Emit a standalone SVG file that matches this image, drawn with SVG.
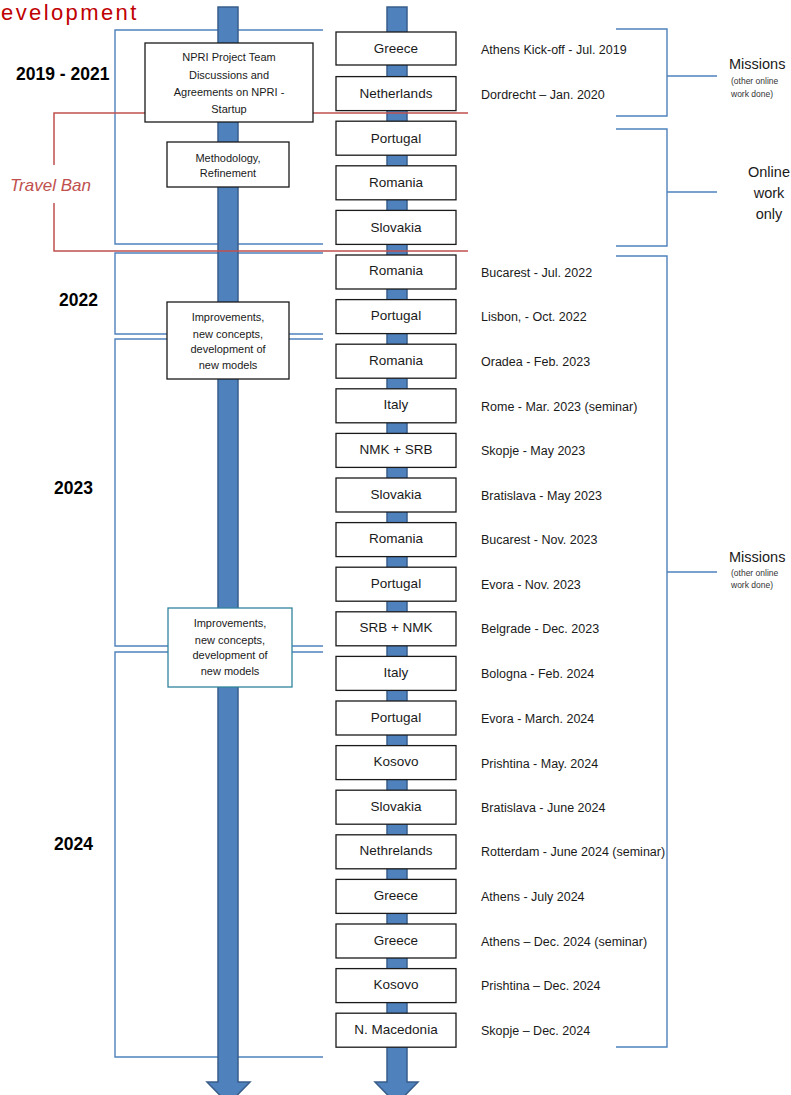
<svg xmlns="http://www.w3.org/2000/svg" width="791" height="1095" viewBox="0 0 791 1095">
<style>
  .bl { fill: none; stroke: #4F81BD; stroke-width: 1.4; }
  .rd { fill: none; stroke: #C0504D; stroke-width: 1.5; }
  .shaft { fill: #4F81BD; stroke: #385D8A; stroke-width: 1.5; }
  .box { fill: #ffffff; stroke: #1a1a1a; stroke-width: 1.3; }
  .tbox { fill: #ffffff; stroke: #31849B; stroke-width: 1.3; }
  .ct { font-family: "Liberation Sans", Arial, sans-serif; font-size: 13.5px; fill: #1a1a1a; text-anchor: middle; }
  .dt { font-family: "Liberation Sans", Arial, sans-serif; font-size: 12.5px; fill: #1a1a1a; }
  .st { font-family: "Liberation Sans", Arial, sans-serif; font-size: 11px; fill: #1a1a1a; text-anchor: middle; }
  .yr { font-family: "Liberation Sans", Arial, sans-serif; font-size: 17.5px; font-weight: bold; fill: #000; }
  .ms { font-family: "Liberation Sans", Arial, sans-serif; font-size: 14.5px; fill: #1a1a1a; }
  .sm { font-family: "Liberation Sans", Arial, sans-serif; font-size: 8.5px; fill: #333; }
</style>
<rect x="0" y="0" width="791" height="1095" fill="#ffffff"/>

<g id="title">
  <text x="1" y="20" font-family="Liberation Sans, Arial, sans-serif" font-size="22" letter-spacing="2.4" fill="#C00000">evelopment</text>
</g>

<g id="connectors">
  <!-- left period brackets -->
  <path class="bl" d="M323,30 H115 V244 H323"/>
  <path class="bl" d="M323,253 H115 V334 H323"/>
  <path class="bl" d="M323,339 H115 V646 H323"/>
  <path class="bl" d="M323,652 H115 V1057 H323"/>
  <!-- right brackets -->
  <path class="bl" d="M616,29 H667 V116 H616 M667,76 H717"/>
  <path class="bl" d="M616,129 H667 V246 H616 M667,192 H717"/>
  <path class="bl" d="M616,256 H667 V1047 H616 M667,572 H717"/>
</g>

<g id="timeline-arrows">
  <path class="shaft" d="M218,7 H238 V1082 H250 L228.5,1104 L207,1082 H218 Z"/>
  <path class="shaft" d="M387,7 H407 V1082 H418 L396.5,1104 L375,1082 H387 Z"/>
</g>

<g id="travel-ban-bracket">
  <path class="rd" d="M468,113 H54 V165"/>
  <path class="rd" d="M54,203 V251 H468"/>
</g>

<g id="label-travel-ban">
  <text x="10" y="191" font-family="Liberation Sans, Arial, sans-serif" font-size="17" font-style="italic" fill="#C0504D">Travel Ban</text>
</g>

<g id="years">
  <text class="yr" x="16" y="80">2019 - 2021</text>
  <text class="yr" x="59" y="306">2022</text>
  <text class="yr" x="54" y="494">2023</text>
  <text class="yr" x="54" y="850">2024</text>
</g>

<g id="node-npri">
  <rect class="box" x="145" y="43" width="168" height="79"/>
  <text class="st" x="229" y="61">NPRI Project Team</text>
  <text class="st" x="229" y="78.5">Discussions and</text>
  <text class="st" x="229" y="96">Agreements on NPRI -</text>
  <text class="st" x="229" y="113">Startup</text>
</g>
<g id="node-methodology">
  <rect class="box" x="167" y="142" width="122" height="45"/>
  <text class="st" x="228" y="162">Methodology,</text>
  <text class="st" x="228" y="177">Refinement</text>
</g>
<g id="node-improvements-1">
  <rect class="box" x="167" y="302" width="122" height="77"/>
  <text class="st" x="228" y="321">Improvements,</text>
  <text class="st" x="228" y="338">new concepts,</text>
  <text class="st" x="228" y="353">development of</text>
  <text class="st" x="228" y="369">new models</text>
</g>
<g id="node-improvements-2">
  <rect class="tbox" x="168" y="608" width="124" height="79"/>
  <text class="st" x="230" y="627">Improvements,</text>
  <text class="st" x="230" y="644">new concepts,</text>
  <text class="st" x="230" y="659">development of</text>
  <text class="st" x="230" y="675">new models</text>
</g>

<g id="node-c00"><rect class="box" x="336" y="32" width="120" height="33"/><text class="ct" x="396" y="53">Greece</text><text class="dt" x="481" y="53.5">Athens Kick-off - Jul. 2019</text></g>
<g id="node-c01"><rect class="box" x="336" y="76.6" width="120" height="34"/><text class="ct" x="396" y="98">Netherlands</text><text class="dt" x="481" y="98.5">Dordrecht – Jan. 2020</text></g>
<g id="node-c02"><rect class="box" x="336" y="121.2" width="120" height="34"/><text class="ct" x="396" y="142.5">Portugal</text></g>
<g id="node-c03"><rect class="box" x="336" y="165.8" width="120" height="34"/><text class="ct" x="396" y="187">Romania</text></g>
<g id="node-c04"><rect class="box" x="336" y="210.4" width="120" height="34"/><text class="ct" x="396" y="231.5">Slovakia</text></g>
<g id="node-c05"><rect class="box" x="336" y="255" width="120" height="34"/><text class="ct" x="396" y="275">Romania</text><text class="dt" x="481" y="276.5">Bucarest - Jul. 2022</text></g>
<g id="node-c06"><rect class="box" x="336" y="299.6" width="120" height="34"/><text class="ct" x="396" y="320">Portugal</text><text class="dt" x="481" y="321">Lisbon, - Oct. 2022</text></g>
<g id="node-c07"><rect class="box" x="336" y="344.2" width="120" height="34"/><text class="ct" x="396" y="364.5">Romania</text><text class="dt" x="481" y="366">Oradea - Feb. 2023</text></g>
<g id="node-c08"><rect class="box" x="336" y="388.8" width="120" height="34"/><text class="ct" x="396" y="409">Italy</text><text class="dt" x="481" y="410.5">Rome - Mar. 2023 (seminar)</text></g>
<g id="node-c09"><rect class="box" x="336" y="433.4" width="120" height="34"/><text class="ct" x="396" y="454">NMK + SRB</text><text class="dt" x="481" y="455">Skopje - May 2023</text></g>
<g id="node-c10"><rect class="box" x="336" y="478" width="120" height="34"/><text class="ct" x="396" y="498.5">Slovakia</text><text class="dt" x="481" y="499.5">Bratislava - May 2023</text></g>
<g id="node-c11"><rect class="box" x="336" y="522.6" width="120" height="34"/><text class="ct" x="396" y="543">Romania</text><text class="dt" x="481" y="544">Bucarest - Nov. 2023</text></g>
<g id="node-c12"><rect class="box" x="336" y="567.2" width="120" height="34"/><text class="ct" x="396" y="587.5">Portugal</text><text class="dt" x="481" y="588.5">Evora - Nov. 2023</text></g>
<g id="node-c13"><rect class="box" x="336" y="611.8" width="120" height="34"/><text class="ct" x="396" y="632">SRB + NMK</text><text class="dt" x="481" y="633">Belgrade - Dec. 2023</text></g>
<g id="node-c14"><rect class="box" x="336" y="656.4" width="120" height="34"/><text class="ct" x="396" y="677">Italy</text><text class="dt" x="481" y="678">Bologna - Feb. 2024</text></g>
<g id="node-c15"><rect class="box" x="336" y="701" width="120" height="34"/><text class="ct" x="396" y="721.5">Portugal</text><text class="dt" x="481" y="722.5">Evora - March. 2024</text></g>
<g id="node-c16"><rect class="box" x="336" y="745.6" width="120" height="34"/><text class="ct" x="396" y="766">Kosovo</text><text class="dt" x="481" y="768">Prishtina - May. 2024</text></g>
<g id="node-c17"><rect class="box" x="336" y="790.2" width="120" height="34"/><text class="ct" x="396" y="810.5">Slovakia</text><text class="dt" x="481" y="811.5">Bratislava - June 2024</text></g>
<g id="node-c18"><rect class="box" x="336" y="834.8" width="120" height="34"/><text class="ct" x="396" y="855">Nethrelands</text><text class="dt" x="481" y="856">Rotterdam - June 2024 (seminar)</text></g>
<g id="node-c19"><rect class="box" x="336" y="879.4" width="120" height="34"/><text class="ct" x="396" y="900">Greece</text><text class="dt" x="481" y="900.5">Athens - July 2024</text></g>
<g id="node-c20"><rect class="box" x="336" y="924" width="120" height="34"/><text class="ct" x="396" y="944.5">Greece</text><text class="dt" x="481" y="945.5">Athens – Dec. 2024 (seminar)</text></g>
<g id="node-c21"><rect class="box" x="336" y="968.6" width="120" height="34"/><text class="ct" x="396" y="989">Kosovo</text><text class="dt" x="481" y="990">Prishtina – Dec. 2024</text></g>
<g id="node-c22"><rect class="box" x="336" y="1013.2" width="120" height="34"/><text class="ct" x="396" y="1033.5">N. Macedonia</text><text class="dt" x="481" y="1035">Skopje – Dec. 2024</text></g>

<g id="label-missions-1">
  <text class="ms" x="729" y="69">Missions</text>
  <text class="sm" x="731" y="84">(other online</text>
  <text class="sm" x="731" y="97">work done)</text>
</g>
<g id="label-online">
  <text class="ms" x="769" y="177" text-anchor="middle" font-size="15">Online</text>
  <text class="ms" x="769" y="198" text-anchor="middle" font-size="15">work</text>
  <text class="ms" x="769" y="219" text-anchor="middle" font-size="15">only</text>
</g>
<g id="label-missions-2">
  <text class="ms" x="729" y="562">Missions</text>
  <text class="sm" x="731" y="576">(other online</text>
  <text class="sm" x="731" y="588">work done)</text>
</g>
</svg>
